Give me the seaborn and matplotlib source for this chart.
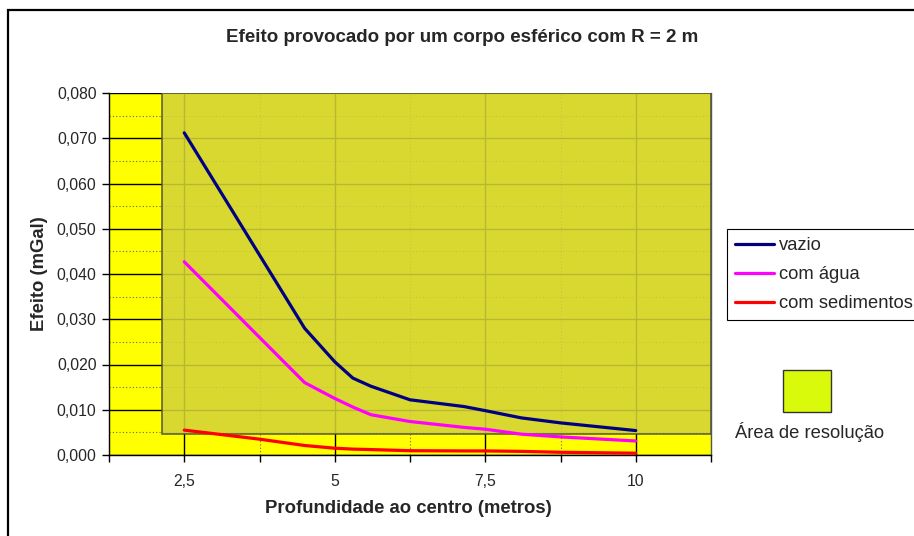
import matplotlib
matplotlib.use("Agg")
import matplotlib.pyplot as plt
from matplotlib.patches import Rectangle
from matplotlib.ticker import FuncFormatter, MultipleLocator, FixedLocator
import seaborn as sns
import pandas as pd

# Depth to the centre (m) and effect (mGal)
profundidade = [2.5, 3.75, 4.5, 5.0, 5.3, 5.6, 6.25, 7.15, 7.5, 8.1, 8.75, 10.0]
vazio = [0.0712, 0.0442, 0.0280, 0.0206, 0.0170, 0.0152, 0.0122, 0.0107, 0.0098, 0.0082, 0.0071, 0.0054]
com_agua = [0.0427, 0.0260, 0.0160, 0.0125, 0.0106, 0.0089, 0.0074, 0.0061, 0.0057, 0.0046, 0.0040, 0.0031]
com_sedimentos = [0.0055, 0.0035, 0.0021, 0.0015, 0.0013, 0.0012, 0.00095, 0.0009, 0.0009, 0.0008, 0.0006, 0.0004]

series_names = ["vazio", "com água", "com sedimentos"]
series_colors = ["#000080", "#FF00FF", "#FF0000"]

# resolution area: x from / y from
area_x0 = 2.135
area_y0 = 0.0047

df = pd.DataFrame({
    "x": profundidade * 3,
    "y": vazio + com_agua + com_sedimentos,
    "serie": [n for n in series_names for _ in profundidade],
})

sns.set_style("white")
plt.rcParams["font.family"] = ["Liberation Sans", "DejaVu Sans"]

W, H = 914, 536
fig = plt.figure(figsize=(W / 100, H / 100), dpi=100)
fig.patch.set_facecolor("white")
ax = fig.add_axes([109 / W, 1 - 455 / H, (711 - 109) / W, (455 - 93) / H])
ax.set_facecolor("#FFFF00")

ax.set_xlim(1.25, 11.25)
ax.set_ylim(0, 0.08)

# grid
ax.xaxis.set_major_locator(FixedLocator([2.5, 5, 7.5, 10]))
ax.xaxis.set_minor_locator(FixedLocator([1.25, 3.75, 6.25, 8.75, 11.25]))
ax.yaxis.set_major_locator(MultipleLocator(0.01))
ax.yaxis.set_minor_locator(MultipleLocator(0.005))
ax.set_axisbelow(True)
ax.grid(which="major", color="black", linewidth=1.0, linestyle="-")
ax.grid(which="minor", color="#666666", linewidth=0.8, linestyle=(0, (1, 2)))

# resolution area overlay
area = Rectangle((area_x0, area_y0), 11.25 - area_x0, 0.08 - area_y0,
                 facecolor=(211 / 255, 211 / 255, 57 / 255), alpha=0.87,
                 edgecolor="#4d4d30", linewidth=1.2, zorder=1.5)
ax.add_patch(area)

sns.lineplot(data=df, x="x", y="y", hue="serie", palette=dict(zip(series_names, series_colors)),
             sort=False, linewidth=2.3, legend=False, ax=ax, zorder=3)

# ticks
ax.yaxis.set_major_formatter(FuncFormatter(lambda v, p: f"{v:.3f}".replace(".", ",")))
ax.xaxis.set_major_formatter(FuncFormatter(lambda v, p: f"{v:g}".replace(".", ",")))
ax.tick_params(axis="y", which="major", direction="out", length=5, width=1, color="black",
               labelsize=11.3, pad=4, left=True)
ax.tick_params(axis="y", which="minor", length=0)
ax.tick_params(axis="x", which="both", direction="out", length=5, width=1, color="black",
               labelsize=11.3, pad=9, bottom=True)

for side in ["left", "bottom"]:
    ax.spines[side].set_color("black")
    ax.spines[side].set_linewidth(1.0)
ax.spines["top"].set_visible(False)
ax.spines["right"].set_color("#555555")
ax.spines["right"].set_linewidth(1.0)

ax.set_xlabel("Profundidade ao centro (metros)", fontsize=13.3, fontweight="bold")
ax.set_ylabel("Efeito (mGal)", fontsize=13.3, fontweight="bold")
ax.xaxis.set_label_coords(0.4967, -0.125)
ax.yaxis.set_label_coords(-0.101, 0.5)

fig.text(462 / W, 1 - 37 / H, "Efeito provocado por um corpo esférico com R = 2 m",
         ha="center", va="center", fontsize=13.5, fontweight="bold")

# legend
handles = [plt.Line2D([], [], color=c, linewidth=2.3) for c in series_colors]
leg = ax.legend(handles, series_names, loc="upper left", bbox_to_anchor=(727 / W, 1 - 229 / H),
                bbox_transform=fig.transFigure, fontsize=13.2, frameon=True, fancybox=False,
                edgecolor="black", framealpha=1, borderpad=0.45, labelspacing=0.65,
                handlelength=2.1, handletextpad=0.3, borderaxespad=0)
leg.get_frame().set_linewidth(0.8)

# resolution area swatch
fig.patches.append(Rectangle((783 / W, 1 - 412 / H), 48 / W, 42 / H, transform=fig.transFigure,
                             facecolor="#D9FA0A", edgecolor="#333333", linewidth=1.0))
fig.text(735 / W, 1 - 432 / H, "Área de resolução", ha="left", va="center", fontsize=13.2)

# outer frame
fig.patches.append(Rectangle((8 / W, -0.5), 2.0, 0.5 + 1 - 10 / H, transform=fig.transFigure,
                             fill=False, edgecolor="black", linewidth=1.6))

fig.savefig("out.png", dpi=100)
